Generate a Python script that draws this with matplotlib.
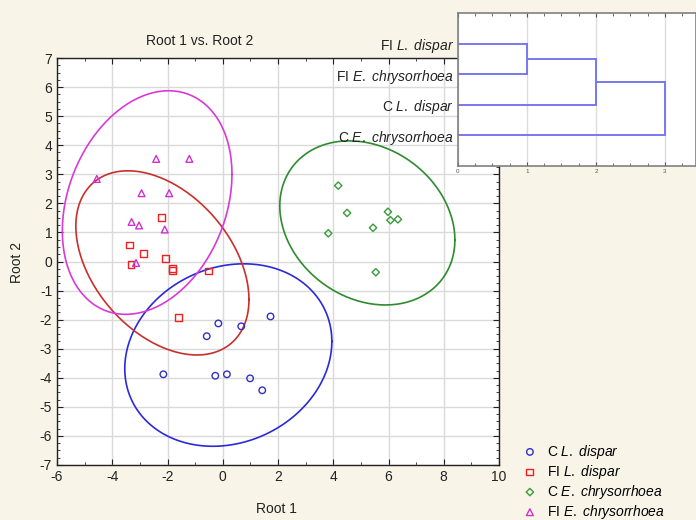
import numpy as np
import matplotlib
matplotlib.use("Agg")
import matplotlib.pyplot as plt
from matplotlib.ticker import MultipleLocator

plt.rcParams['font.family'] = ['Liberation Sans', 'DejaVu Sans']
plt.rcParams['mathtext.fontset'] = 'custom'
plt.rcParams['mathtext.rm'] = 'Liberation Sans'
plt.rcParams['mathtext.it'] = 'Liberation Sans:italic'
plt.rcParams['axes.unicode_minus'] = False

# group scores (Root 1, Root 2)
c_dispar_x = [-0.16, -0.58, 0.67, 1.73, -2.15, -0.27, 0.15, 0.99, 1.43]
c_dispar_y = [-2.13, -2.57, -2.23, -1.89, -3.88, -3.93, -3.88, -4.02, -4.43]
fi_dispar_x = [-2.21, -3.39, -2.88, -2.06, -3.32, -1.83, -1.83, -0.53, -1.61]
fi_dispar_y = [1.52, 0.57, 0.28, 0.11, -0.10, -0.23, -0.32, -0.33, -1.93]
c_chrys_x = [4.18, 4.50, 5.98, 6.07, 6.34, 5.44, 3.82, 5.54]
c_chrys_y = [2.61, 1.67, 1.71, 1.42, 1.45, 1.16, 0.97, -0.37]
fi_chrys_x = [-2.41, -1.21, -4.56, -2.94, -1.94, -3.30, -3.03, -2.10, -3.14]
fi_chrys_y = [3.53, 3.53, 2.84, 2.35, 2.35, 1.36, 1.24, 1.10, -0.05]

# ellipse scale (in standard deviations)
ellipse_k = [3.17, 3.46, 3.35, 3.19]

group_labels = [r"C $\mathit{L.\ dispar}$", r"FI $\mathit{L.\ dispar}$",
                r"C $\mathit{E.\ chrysorrhoea}$", r"FI $\mathit{E.\ chrysorrhoea}$"]

# dendrogram (top to bottom) and merge distances
dendro_labels = [r"FI $\mathit{L.\ dispar}$", r"FI $\mathit{E.\ chrysorrhoea}$",
                 r"C $\mathit{L.\ dispar}$", r"C $\mathit{E.\ chrysorrhoea}$"]
merge_dist = [1, 2, 3]

groups = [(c_dispar_x, c_dispar_y), (fi_dispar_x, fi_dispar_y),
          (c_chrys_x, c_chrys_y), (fi_chrys_x, fi_chrys_y)]
markers = ['o', 's', 'D', '^']
sizes = [22, 24, 14, 24]
mcolors = ['#3030c8', '#f02020', '#3a9a3a', '#d030d0']
ecolors = ['#2a2ad8', '#c8302c', '#2e8b2e', '#d83ad8']

fig = plt.figure(figsize=(6.96, 5.2), dpi=100)
fig.patch.set_facecolor('#f8f5e8')

ax = fig.add_axes([57/696, 1-465/520, 442/696, 407/520])
ax.set_facecolor('white')

t = np.linspace(0, 2*np.pi, 300)
handles = []
for (gx, gy), m, s, mc, ec, k, lab in zip(groups, markers, sizes, mcolors, ecolors, ellipse_k, group_labels):
    pts = np.column_stack([gx, gy])
    mu = pts.mean(axis=0)
    L = np.linalg.cholesky(np.cov(pts.T))
    ell = mu[:, None] + k * L @ np.vstack([np.cos(t), np.sin(t)])
    ax.plot(ell[0], ell[1], color=ec, lw=1.2, zorder=2)
    h = ax.scatter(gx, gy, marker=m, s=s, facecolors='none', edgecolors=mc,
                   linewidths=1.0, zorder=3, label=lab)
    handles.append(h)

ax.set_xlim(-6, 10)
ax.set_ylim(-7, 7)
ax.xaxis.set_major_locator(MultipleLocator(2))
ax.xaxis.set_minor_locator(MultipleLocator(1))
ax.yaxis.set_major_locator(MultipleLocator(1))
ax.yaxis.set_minor_locator(MultipleLocator(0.25))
ax.tick_params(which='both', direction='in', top=True, right=True, labelsize=10, colors='#222222')
ax.tick_params(which='major', length=4)
ax.tick_params(which='minor', length=2.5)
ax.grid(True, which='major', color='#dadada', lw=1)
ax.set_axisbelow(True)
for sp in ax.spines.values():
    sp.set_color('#222222')
    sp.set_linewidth(1.0)

fig.text(200/696, 1-41/520, "Root 1 vs. Root 2", ha='center', va='center', fontsize=10, color='#222222')
fig.text(276/696, 1-509/520, "Root 1", ha='center', va='center', fontsize=10, color='#222222')
fig.text(17/696, 1-262/520, "Root 2", ha='center', va='center', rotation=90, fontsize=10, color='#222222')

fig.legend(handles=handles, loc='upper left', bbox_to_anchor=(516/696, 1-437/520),
           frameon=False, fontsize=10, labelspacing=0.15, handletextpad=0.6,
           handlelength=1.2, borderaxespad=0)

# dendrogram inset
ax2 = fig.add_axes([458/696, 1-166/520, 238/696, 153/520])
ax2.set_facecolor('white')
ax2.set_xlim(0, 3.45)
ax2.set_ylim(5, 0)
lc = '#7878ee'
pos = {i: i + 1 for i in range(len(dendro_labels))}
cur_y, cur_x = pos[0], 0
for j, d in enumerate(merge_dist):
    other = j + 1
    oy = pos[other]
    ax2.plot([cur_x, d], [cur_y, cur_y], color=lc, lw=1.4)
    ax2.plot([0, d], [oy, oy], color=lc, lw=1.4)
    ax2.plot([d, d], [cur_y, oy], color=lc, lw=1.4)
    cur_y, cur_x = (cur_y + oy) / 2, d
ax2.set_yticks([pos[i] for i in range(len(dendro_labels))])
ax2.set_yticklabels(dendro_labels, fontsize=10, color='#222222')
ax2.tick_params(axis='y', length=0, pad=3)
ax2.xaxis.set_major_locator(MultipleLocator(1))
ax2.xaxis.set_minor_locator(MultipleLocator(0.25))
ax2.tick_params(axis='x', which='both', direction='in', top=True, labelsize=4.5, pad=2, colors='#555555')
ax2.tick_params(axis='x', which='major', length=3)
ax2.tick_params(axis='x', which='minor', length=2)
ax2.grid(True, axis='x', which='major', color='#dcdcdc', lw=1)
ax2.set_axisbelow(True)
for sp in ax2.spines.values():
    sp.set_color('#808080')
    sp.set_linewidth(1.2)

fig.savefig('out.png', dpi=100, facecolor=fig.get_facecolor())
